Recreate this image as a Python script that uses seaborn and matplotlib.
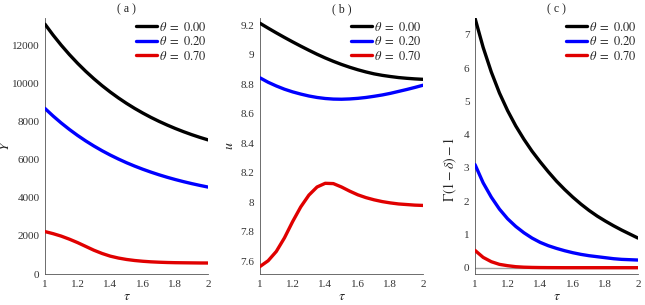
import numpy as np
import pandas as pd
import matplotlib
matplotlib.use("Agg")
import matplotlib.pyplot as plt
import seaborn as sns

# tau grid shared by all panels
tau = [1.00, 1.05, 1.10, 1.15, 1.20, 1.25, 1.30, 1.35, 1.40, 1.45, 1.50,
       1.55, 1.60, 1.65, 1.70, 1.75, 1.80, 1.85, 1.90, 1.95, 2.00]

thetas = ['0.00', '0.20', '0.70']
colors = ['#000000', '#0000ff', '#e00000']

# panel (a): Y
Y_00 = [13130, 12555, 12023, 11531, 11075, 10653, 10263, 9901, 9567, 9257, 8970,
        8705, 8460, 8232, 8022, 7828, 7647, 7480, 7325, 7182, 7050]
Y_20 = [8700, 8302, 7935, 7596, 7283, 6994, 6728, 6481, 6254, 6045, 5850,
        5672, 5507, 5355, 5214, 5084, 4964, 4854, 4752, 4658, 4570]
Y_70 = [2230, 2120, 1990, 1830, 1650, 1450, 1250, 1080, 940, 840, 765,
        710, 670, 640, 620, 605, 595, 590, 585, 580, 578]

# panel (b): u
u_00 = [9.215, 9.182, 9.150, 9.119, 9.089, 9.060, 9.032, 9.005, 8.980, 8.957, 8.936,
        8.917, 8.900, 8.885, 8.872, 8.862, 8.854, 8.847, 8.842, 8.838, 8.835]
u_20 = [8.845, 8.815, 8.79, 8.768, 8.75, 8.735, 8.722, 8.712, 8.705, 8.701, 8.70,
        8.702, 8.706, 8.712, 8.72, 8.729, 8.74, 8.753, 8.766, 8.78, 8.795]
u_70 = [7.566, 7.605, 7.668, 7.76, 7.87, 7.97, 8.05, 8.105, 8.13, 8.128, 8.105,
        8.077, 8.052, 8.033, 8.018, 8.006, 7.997, 7.99, 7.986, 7.982, 7.98]

# panel (c): Gamma(1-delta)-1
g_00 = [7.50, 6.62, 5.88, 5.25, 4.72, 4.26, 3.86, 3.50, 3.18, 2.88, 2.60,
        2.35, 2.12, 1.91, 1.72, 1.55, 1.40, 1.26, 1.13, 1.01, 0.89]
g_20 = [3.10, 2.55, 2.12, 1.76, 1.47, 1.24, 1.05, 0.89, 0.76, 0.66, 0.58,
        0.51, 0.45, 0.40, 0.36, 0.33, 0.30, 0.27, 0.25, 0.24, 0.23]
g_70 = [0.52, 0.31, 0.18, 0.10, 0.06, 0.03, 0.015, 0.008, 0.004, 0.002, 0.001,
        0.0, 0.0, 0.0, 0.0, 0.0, 0.0, 0.0, 0.0, 0.0, 0.0]

sns.set_style("white")
plt.rcParams['font.family'] = ['Liberation Serif', 'DejaVu Serif']
plt.rcParams['mathtext.fontset'] = 'stix'


def long_df(series):
    frames = []
    for th, vals in zip(thetas, series):
        frames.append(pd.DataFrame({'tau': tau, 'val': vals,
                                    'theta': r'$\theta\ =\ ' + th + '$'}))
    return pd.concat(frames, ignore_index=True)


panels = [
    ('( a )', r'$Y$', [Y_00, Y_20, Y_70], (0, 13450), [0, 2000, 4000, 6000, 8000, 10000, 12000],
     ['0', '2000', '4000', '6000', '8000', '10000', '12000'], -0.2, 0.5),
    ('( b )', r'$u$', [u_00, u_20, u_70], (7.515, 9.25), [7.6, 7.8, 8.0, 8.2, 8.4, 8.6, 8.8, 9.0, 9.2],
     ['7.6', '7.8', '8', '8.2', '8.4', '8.6', '8.8', '9', '9.2'], -0.145, 0.5),
    ('( c )', r'$\Gamma(1-\delta)-1$', [g_00, g_20, g_70], (-0.19, 7.5), [0, 1, 2, 3, 4, 5, 6, 7],
     ['0', '1', '2', '3', '4', '5', '6', '7'], -0.1, 0.41),
]

fig = plt.figure(figsize=(6.45, 3.05), dpi=100)
lefts = [45 / 645, 260 / 645, 475 / 645]

for i, (title, ylab, series, ylim, yt, ytl, lx, ly) in enumerate(panels):
    ax = fig.add_axes([lefts[i], 0.1016, 0.2527, 0.839])
    df = long_df(series)
    if i == 2:
        ax.axhline(0, color='#a0a0a0', lw=1.0, zorder=1)
    sns.lineplot(data=df, x='tau', y='val', hue='theta', palette=colors,
                 linewidth=2.4, ax=ax, zorder=3)
    ax.set_xlim(1, 2)
    ax.set_ylim(*ylim)
    ax.set_xticks([1, 1.2, 1.4, 1.6, 1.8, 2])
    ax.set_xticklabels(['1', '1.2', '1.4', '1.6', '1.8', '2'])
    ax.set_yticks(yt)
    ax.set_yticklabels(ytl)
    ax.tick_params(direction='in', length=3, width=0.6, labelsize=8,
                   colors='#555555', labelcolor='#333333', pad=4)
    for s in ['top', 'right']:
        ax.spines[s].set_visible(False)
    for s in ['left', 'bottom']:
        ax.spines[s].set_color('#555555')
        ax.spines[s].set_linewidth(0.6)
    ax.set_title(title, fontsize=8.5, pad=4, color='#222222')
    ax.set_xlabel(r'$\tau$', fontsize=10, labelpad=1)
    ax.set_ylabel(ylab, fontsize=10)
    ax.yaxis.set_label_coords(lx, ly)
    ax.legend(loc='upper right', bbox_to_anchor=(1.03, 1.015), frameon=False,
              fontsize=9, handlelength=1.7, handletextpad=0.15,
              labelspacing=0.12, borderaxespad=0.1)

fig.savefig('out.png', dpi=100)
